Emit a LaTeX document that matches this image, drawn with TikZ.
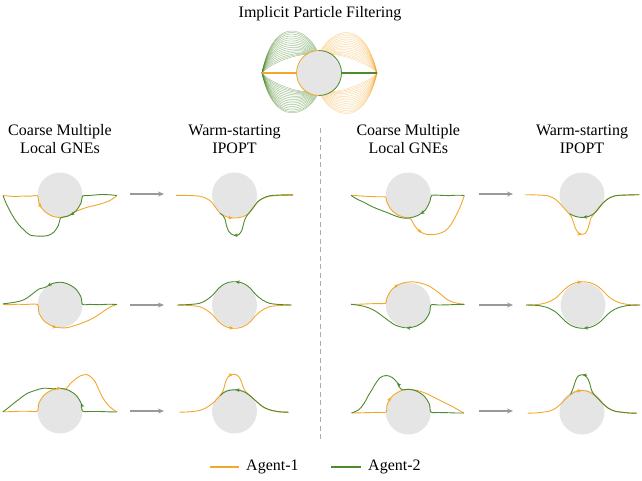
\documentclass[tikz,border=0pt]{standalone}
\usepackage{fontspec}
\setmainfont{Liberation Serif}
\usetikzlibrary{arrows.meta}
\definecolor{agentone}{RGB}{243,167,43}
\definecolor{agenttwo}{RGB}{78,138,46}
\definecolor{obstgray}{RGB}{229,229,229}
\begin{document}
\begin{tikzpicture}[x=1pt,y=-1pt,
		obst/.style={circle,fill=obstgray,minimum size=45pt,inner sep=0pt},
		agA/.style={agentone,line width=.9pt,line join=round},
		agB/.style={agenttwo,line width=.9pt,line join=round},
		arrhead/.style={-{Stealth[length=4pt,width=3.6pt]}},
		flow/.style={gray!80,line width=1.1pt,-{Stealth[length=6pt,width=5pt]}},
		hdr/.style={align=center,font=\fontsize{16}{18}\selectfont}]
	\useasboundingbox (0,0) rectangle (642,480);
	% title and particles
	\node[hdr] (title) at (320,14) {Implicit Particle Filtering};
	\node[obst] (top) at (319,73) {};
	\begin{scope}[shift={(top)}]
		\foreach \t in {0,.06,.12,.19,.26,.33,.4,.47,.54,.61,.68,.75,.82,.89,.95,1}{
			\pgfmathsetmacro\pa{-125+30*\t}
			\pgfmathsetmacro\pb{125-30*\t}
			\pgfmathsetmacro\pc{-55-30*\t}
			\pgfmathsetmacro\pd{55+30*\t}
			\draw[agB,line width=.5pt,opacity=.5] (\pa:22.5) .. controls ({22.5*cos(\pa)-14+4*\t},{22.5*sin(\pa)-22*\t}) and ({-51+6*\t},{-8-52*\t}) .. (-57,0);
			\draw[agB,line width=.5pt,opacity=.5] (\pb:22.5) .. controls ({22.5*cos(\pb)-14+4*\t},{22.5*sin(\pb)+20*\t}) and ({-51+6*\t},{8+48*\t}) .. (-57,0);
			\draw[agA,line width=.5pt,opacity=.4] (\pc:22.5) .. controls ({22.5*cos(\pc)+14-4*\t},{22.5*sin(\pc)-20*\t}) and ({51-6*\t},{-8-50*\t}) .. (58,0);
			\draw[agA,line width=.5pt,opacity=.4] (\pd:22.5) .. controls ({22.5*cos(\pd)+14-4*\t},{22.5*sin(\pd)+20*\t}) and ({51-6*\t},{8+50*\t}) .. (58,0);
		}
		\draw[agA,line width=2.8pt] (-57,0) -- (-22.5,0);
		\draw[agB,line width=2.8pt] (22.5,0) -- (58,0);
		\draw[agA,line width=.8pt] (90:22.5) arc[start angle=90,end angle=270,radius=22.5];
		\draw[agB,line width=.8pt] (-90:22.5) arc[start angle=-90,end angle=90,radius=22.5];
	\end{scope}
	% headers
	\node[hdr] (h1) at (60,139) {Coarse Multiple\\Local GNEs};
	\node[hdr] (h2) at (234.5,139) {Warm-starting\\IPOPT};
	\node[hdr] (h3) at (408.3,139) {Coarse Multiple\\Local GNEs};
	\node[hdr] (h4) at (582,139) {Warm-starting\\IPOPT};
	% obstacles
	\node[obst] (o11) at (60,195) {};
	\node[obst] (o21) at (60,305) {};
	\node[obst] (o31) at (60,411) {};
	\node[obst] (o12) at (234.5,195) {};
	\node[obst] (o22) at (234.5,305) {};
	\node[obst] (o32) at (234.5,411) {};
	\node[obst] (o13) at (408.3,195) {};
	\node[obst] (o23) at (408.3,305) {};
	\node[obst] (o33) at (408.3,412) {};
	\node[obst] (o14) at (582,195) {};
	\node[obst] (o24) at (583,305) {};
	\node[obst] (o34) at (582,412) {};
	% coarse, left
	\begin{scope}[shift={(o11)}]
		\draw[agA] plot[smooth,tension=.5] coordinates {(-57,.5) (-50,1.2) (-44,1.6) (-38,1) (-30,1.2) (-22.5,.8) (160:22.5) (135:22.5) (110:22.5) (90:22.5) (70:22.5) (45:23) (28,12) (35,10.5) (42,8.5) (50,5.5) (57,.5)};
		\draw[agB] plot[smooth,tension=.5] coordinates {(57,.5) (50,-.2) (42,-.5) (35,0) (28,.6) (22.5,1) (20:22.5) (45:22.5) (70:22.5) (88:22.8) (-1.5,30) (-6,37) (-12,40.5) (-20,41.2) (-30,40) (-36,35) (-41,30) (-46,23) (-50,16) (-54,8) (-57,.5)};
		\draw[agA,arrhead] (158:22.6) arc[start angle=158,end angle=146,radius=22.6];
		\draw[agB,arrhead] (52:22.6) arc[start angle=52,end angle=63,radius=22.6];
	\end{scope}
	\begin{scope}[shift={(o21)}]
		\draw[agA] plot[smooth,tension=.5] coordinates {(-57,-.5) (-50,-.3) (-42,-.8) (-35,-.5) (-22.5,-.5) (160:22.5) (135:22.5) (110:22.5) (95:22.6) (6,22.8) (15,20.5) (26,16.5) (35,12) (43,6.7) (50,2) (57,-.5)};
		\draw[agB] plot[smooth,tension=.5] coordinates {(57,-.5) (48,-.8) (40,-.3) (30,-.6) (22.5,-.7) (-20:22.5) (-45:22.5) (-70:22.5) (-90:22.8) (-110:22.8) (-130:23) (-21,-16) (-27,-11.5) (-33,-7) (-38,-4.5) (-44,-3) (-50,-2) (-57,-1.2)};
		\draw[agA,arrhead] (110:22.6) arc[start angle=110,end angle=99,radius=22.6];
		\draw[agB,arrhead] (-112:22.7) arc[start angle=-112,end angle=-123,radius=22.7];
	\end{scope}
	\begin{scope}[shift={(o31)}]
		\draw[agA] plot[smooth,tension=.5] coordinates {(-57,.8) (-48,.6) (-40,.2) (-30,.3) (-22.5,0) (-160:22.5) (-135:22.5) (-110:22.5) (-90:22.6) (-75:22.8) (10,-27) (15,-31.5) (20,-35) (26.5,-36.5) (31,-34) (35,-29.5) (39,-21) (42,-14.5) (46,-8.5) (50,-4) (54,-1) (57,1)};
		\draw[agB] plot[smooth,tension=.5] coordinates {(57,1) (48,.8) (40,.5) (30,.5) (22.5,0) (-20:22.5) (-45:22.5) (-70:22.5) (-90:22.7) (-105:23) (-16.5,-22.8) (-25,-20.5) (-33,-17.5) (-40,-12.5) (-46.5,-7.5) (-52,-3) (-57,.8)};
		\draw[agA,arrhead] (-100:22.6) arc[start angle=-100,end angle=-88,radius=22.6];
		\draw[agB,arrhead] (-10:22.5) arc[start angle=-10,end angle=-20,radius=22.5];
	\end{scope}
	% warm start, left
	\begin{scope}[shift={(o12)}]
		\draw[agA] plot[smooth] coordinates {(-58.5,.3) (-45,.5) (-35,1.2) (-28,3.5) (-23,7) (-18.5,13) (-14.5,18.2) (-8,21.8) (0,23) (8,21.8) (14.5,18.2) (18.5,13) (23,7) (28,3.5) (35,1.2) (45,.5) (58.5,.3)};
		\draw[agB] plot[smooth] coordinates {(58.5,-.3) (45,0) (35,.8) (28,3.5) (23,7) (18.5,13) (14,18.5) (11,23) (9,29) (7.5,35) (4.5,39.5) (1,40.5) (-2.5,39.5) (-6,36) (-8,30.5) (-9.5,24) (-11.5,20.5) (-14.5,18.2)};
		\draw[agA,arrhead] (-6.5,22.6) -- (-2,23);
		\draw[agB,arrhead] (3.5,40.2) -- (-1,40.4);
	\end{scope}
	\begin{scope}[shift={(o22)}]
		\draw[agA] plot[smooth] coordinates {(-57,0) (-45,.5) (-35,1.7) (-28,5) (-21.7,10) (-16,16.5) (-11,20.5) (-5.5,22.7) (0,23.3) (5.5,22.7) (11,20.5) (16,16.5) (21.7,10) (28,5) (35,1.7) (45,.5) (57,0)};
		\draw[agB] plot[smooth] coordinates {(57,0) (45,-.5) (35,-1.7) (28,-5) (21.7,-10) (16,-16.5) (11,-20.5) (5.5,-22.7) (0,-23.3) (-5.5,-22.7) (-11,-20.5) (-16,-16.5) (-21.7,-10) (-28,-5) (-35,-1.7) (-45,-.5) (-57,0)};
		\draw[agA,arrhead] (-5.5,22.7) -- (-1,23.3);
		\draw[agB,arrhead] (5.5,-22.7) -- (1,-23.3);
	\end{scope}
	\begin{scope}[shift={(o32)}]
		\draw[agA] plot[smooth] coordinates {(-55,1.2) (-45,.8) (-35,-.5) (-28,-3.5) (-22,-7.5) (-17,-12.5) (-13,-17) (-10.5,-23) (-9,-29) (-6.5,-34) (-2.5,-36.5) (1.5,-36.3) (5,-33.5) (7.5,-27.5) (9.5,-22) (12.5,-18) (17,-14) (22,-9.5) (28,-4.5) (35,-1.2) (45,.8) (54,1.2)};
		\draw[agB] plot[smooth] coordinates {(54,1.2) (45,.8) (35,-1.2) (28,-4.5) (22,-9.5) (17,-14) (11,-18.5) (5,-20.7) (0,-21.2) (-6,-20.5) (-11.5,-18) (-14,-15.5)};
		\draw[agA,arrhead] (-6,-35.8) -- (-1.5,-36.5);
		\draw[agB,arrhead] (5.5,-20.7) -- (1,-21.2);
	\end{scope}
	% coarse, right
	\begin{scope}[shift={(o13)}]
		\draw[agA] plot[smooth,tension=.5] coordinates {(-57.3,.3) (-50,.8) (-44,1.2) (-37,1.5) (-30,1.8) (-22.7,2) (165:22.6) (140:22.6) (115:22.6) (95:22.8) (2.5,24) (5,28.5) (8.5,33.5) (13.3,37.5) (18,39.3) (23.3,39.7) (30,38.8) (36.7,36) (42,30.5) (46.5,23) (50,16) (53,9) (55,3.5) (56,.4)};
		\draw[agB] plot[smooth,tension=.5] coordinates {(56,.4) (48,.2) (40,.6) (32,.3) (23.3,.4) (15:22.6) (40:22.6) (65:22.6) (85:22.8) (-3,23.2) (-8,22.5) (-14,20.5) (-20,18) (-28,15) (-36.7,11.4) (-44,7.5) (-50,4.7) (-54,2.5) (-57.3,.3)};
		\draw[agA,arrhead] (9.5,34.8) -- (13.5,37.7);
		\draw[agB,arrhead] (46:22.6) arc[start angle=46,end angle=57,radius=22.6];
	\end{scope}
	\begin{scope}[shift={(o23)}]
		\draw[agA] plot[smooth,tension=.5] coordinates {(-57.3,-.7) (-48,-.8) (-40,-1.2) (-32,-1.4) (-22.7,-1.7) (-165:22.6) (-140:22.6) (-115:22.6) (-95:22.8) (3.3,-23.3) (12,-22) (20,-19.3) (27,-15) (33.3,-10) (38,-6) (43.3,-3.3) (50,-1.5) (56,-.7)};
		\draw[agB] plot[smooth,tension=.5] coordinates {(56,-.7) (48,-.5) (40,-.2) (30,0) (22.7,0) (20:22.6) (45:22.6) (70:22.6) (90:22.8) (-4,22.7) (-9,21.5) (-13.3,20) (-20,15.5) (-26.7,10.5) (-33,6) (-40,2.7) (-48,.5) (-57.3,-.7)};
		\draw[agA,arrhead] (-127:22.6) arc[start angle=-127,end angle=-116,radius=22.6];
		\draw[agB,arrhead] (84:22.8) arc[start angle=84,end angle=95,radius=22.8];
	\end{scope}
	\begin{scope}[shift={(o33)}]
		\draw[agA] plot[smooth,tension=.5] coordinates {(-56.8,1) (-48,.8) (-40,.6) (-30,.3) (-22.2,0) (-160:22.5) (-135:22.5) (-110:22.5) (-90:22.7) (9,-21.5) (18,-18.5) (28,-13.5) (37,-9) (45,-5) (51,-1.5) (55.5,1)};
		\draw[agB] plot[smooth,tension=.5] coordinates {(55.5,1) (48,1) (40,.7) (30,.5) (22.5,0) (-20:22.5) (-45:22.5) (-70:22.6) (-90:22.7) (-105:23) (-9,-25) (-11,-29.3) (-16,-34.5) (-22,-36.5) (-28,-34.5) (-33,-28) (-36.5,-22) (-39.5,-17.3) (-44,-9) (-49.5,-2.3) (-56.8,1)};
		\draw[agA,arrhead] (-152:22.5) arc[start angle=-152,end angle=-140,radius=22.5];
		\draw[agB,arrhead] (-8.6,-26.1) -- (-11,-29.3);
	\end{scope}
	% warm start, right
	\begin{scope}[shift={(o14)}]
		\draw[agA] plot[smooth] coordinates {(-56.7,-.3) (-45,0) (-35,.7) (-29,2.8) (-24,6.5) (-19,12) (-14,17.5) (-10.5,22) (-8.5,27.5) (-6.5,33.5) (-3.5,38) (0,39.3) (3.5,38) (6,33.5) (7.5,28) (9,23) (12,19) (16,14) (20.5,8.5) (26,3.8) (33,.8) (45,0) (57.3,-.3)};
		\draw[agB] plot[smooth] coordinates {(57.3,-.3) (45,0) (33,.8) (26,3.8) (20.5,8.5) (16,14) (12,18.5) (7,21.3) (1.5,22.4) (-4,22) (-9,20.5) (-12.5,18.5)};
		\draw[agA,arrhead] (-4.5,38.8) -- (0,39.3);
		\draw[agB,arrhead] (5.5,21.8) -- (1,22.4);
	\end{scope}
	\begin{scope}[shift={(o24)}]
		\draw[agA] plot[smooth] coordinates {(-57,0) (-45,-.5) (-35.3,-2.7) (-28,-6.5) (-23.5,-10.5) (-18,-16) (-13,-19.8) (-7,-22.4) (0,-23.3) (7,-22.4) (13,-19.8) (18,-16) (23.5,-10.5) (28,-6.5) (35.3,-2.7) (45,-.5) (57,0)};
		\draw[agB] plot[smooth] coordinates {(57,0) (45,.5) (35.3,2.7) (28,6.5) (23.5,10.5) (18,16) (13,19.8) (7,22.4) (0,23.3) (-7,22.4) (-13,19.8) (-18,16) (-23.5,10.5) (-28,6.5) (-35.3,2.7) (-45,.5) (-57,0)};
		\draw[agA,arrhead] (-6,-22.6) -- (-1.5,-23.3);
		\draw[agB,arrhead] (5.5,22.7) -- (1,23.3);
	\end{scope}
	\begin{scope}[shift={(o34)}]
		\draw[agA] plot[smooth] coordinates {(-54.3,1.2) (-45,.8) (-33,-.8) (-26,-4) (-20.5,-8.8) (-16,-13.5) (-11.5,-17.5) (-6,-20.5) (0,-21.5) (6,-20.5) (11.5,-17.5) (16,-13.5) (20.5,-8.8) (26,-4) (33,-.8) (45,.8) (54.7,1.2)};
		\draw[agB] plot[smooth] coordinates {(54.7,1.2) (45,.8) (33,-.8) (26,-4) (20.5,-8.8) (16,-13.5) (12,-17.5) (9.5,-22) (8,-27.5) (6,-33) (3,-36.5) (0,-37.3) (-3,-36.5) (-5.5,-33.5) (-7.2,-29) (-8.8,-24) (-11.5,-17.5)};
		\draw[agA,arrhead] (-5,-21) -- (-.5,-21.5);
		\draw[agB,arrhead] (5,-36.6) -- (.5,-37.3);
	\end{scope}
	% arrows between columns
	\coordinate (f11) at (130,194); \coordinate (f12) at (164,194);
	\coordinate (f21) at (130,305); \coordinate (f22) at (164,305);
	\coordinate (f31) at (130,411); \coordinate (f32) at (164,411);
	\coordinate (g11) at (479,194); \coordinate (g12) at (513,194);
	\coordinate (g21) at (479,305); \coordinate (g22) at (513,305);
	\coordinate (g31) at (479,411); \coordinate (g32) at (513,411);
	\draw[flow] (f11) -- (f12);
	\draw[flow] (f21) -- (f22);
	\draw[flow] (f31) -- (f32);
	\draw[flow] (g11) -- (g12);
	\draw[flow] (g21) -- (g22);
	\draw[flow] (g31) -- (g32);
	% divider
	\coordinate (d1) at (320,128); \coordinate (d2) at (320,442);
	\draw[gray!65,line width=.9pt,dash pattern=on 5pt off 3.5pt] (d1) -- (d2);
	% legend
	\coordinate (k1) at (210,467); \coordinate (k2) at (239,467);
	\coordinate (k3) at (331,467); \coordinate (k4) at (361,467);
	\draw[agA,line width=1.8pt] (k1) -- (k2) node[right=3pt,text=black,hdr] (lab1) {Agent-1};
	\draw[agB,line width=1.8pt] (k3) -- (k4) node[right=3pt,text=black,hdr] (lab2) {Agent-2};
\end{tikzpicture}
\end{document}
